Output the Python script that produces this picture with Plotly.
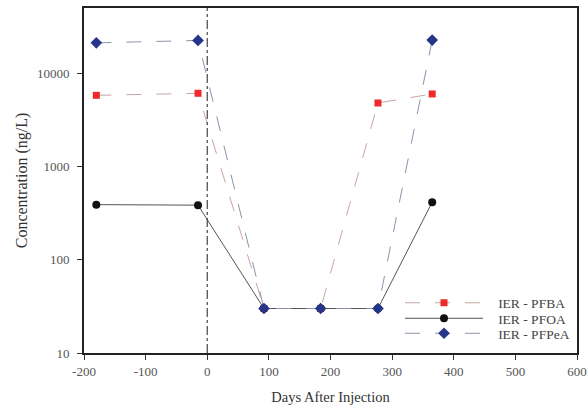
import plotly.graph_objects as go

days = [-180, -15, 92, 184, 277, 365]
pfba = [5800, 6100, 30, 30, 4800, 6000]
pfoa = [390, 385, 30, 30, 30, 415]
pfpea = [21200, 22500, 30, 30, 30, 22700]

x_ticks = [-200, -100, 0, 100, 200, 300, 400, 500, 600]
y_ticks = [10, 100, 1000, 10000]
injection_day = 0

font_family = "Liberation Serif, Times New Roman, serif"
pad = "\u00a0\u00a0\u00a0"

fig = go.Figure()
fig.add_trace(go.Scatter(
    x=days, y=pfba, name=pad + "IER - PFBA", mode="lines+markers", legend="legend",
    line=dict(color="#c9a4a4", width=1, dash="longdash"),
    marker=dict(symbol="square", size=7, color="#f02a2a"),
))
fig.add_trace(go.Scatter(
    x=days, y=pfoa, name=pad + "IER - PFOA", mode="lines+markers", legend="legend2",
    line=dict(color="#555555", width=1),
    marker=dict(symbol="circle", size=8, color="#111111"),
))
fig.add_trace(go.Scatter(
    x=days, y=pfpea, name=pad + "IER - PFPeA", mode="lines+markers", legend="legend3",
    line=dict(color="#8a93ab", width=1, dash="longdash"),
    marker=dict(symbol="diamond", size=9, color="#25358a"),
))

fig.add_shape(type="line", xref="x", yref="paper", x0=injection_day, x1=injection_day,
              y0=0, y1=1, line=dict(color="#444444", width=1.2, dash="dashdot"))

leg_common = dict(xanchor="left", yanchor="middle", bgcolor="rgba(0,0,0,0)",
                  font=dict(size=13.5, color="#444444"), itemwidth=78)
lx = (400 - 84) / 493
fig.update_layout(
    width=587, height=408,
    margin=dict(l=84, r=10, t=8, b=55),
    paper_bgcolor="white", plot_bgcolor="white",
    font=dict(family=font_family, size=12, color="#333333"),
    showlegend=True,
    legend=dict(x=lx, y=(353 - 303) / 345, **leg_common),
    legend2=dict(x=lx, y=(353 - 318.5) / 345, **leg_common),
    legend3=dict(x=lx, y=(353 - 333.5) / 345, **leg_common),
)
fig.update_xaxes(
    range=[-200, 600], tickvals=x_ticks, ticktext=[str(v) for v in x_ticks],
    ticks="outside", ticklen=5, tickcolor="#333", showline=True, linecolor="#222",
    linewidth=2, mirror=True, showgrid=False, zeroline=False, automargin=False,
    tickfont=dict(size=13, color="#555"), ticklabelstandoff=0,
    title=dict(text="Days After Injection", font=dict(size=14.5, color="#333"), standoff=14),
)
fig.update_yaxes(
    type="log", range=[1, 4.70], tickvals=y_ticks, ticktext=[str(v) for v in y_ticks],
    ticks="outside", ticklen=5, tickcolor="#333", showline=True, linecolor="#222",
    linewidth=2, mirror=True, showgrid=False, zeroline=False, automargin=False,
    tickfont=dict(size=13, color="#555"), ticklabelstandoff=5,
    title=dict(text="Concentration (ng/L)", font=dict(size=16, color="#333"), standoff=5),
)

fig.write_html("out.html")
